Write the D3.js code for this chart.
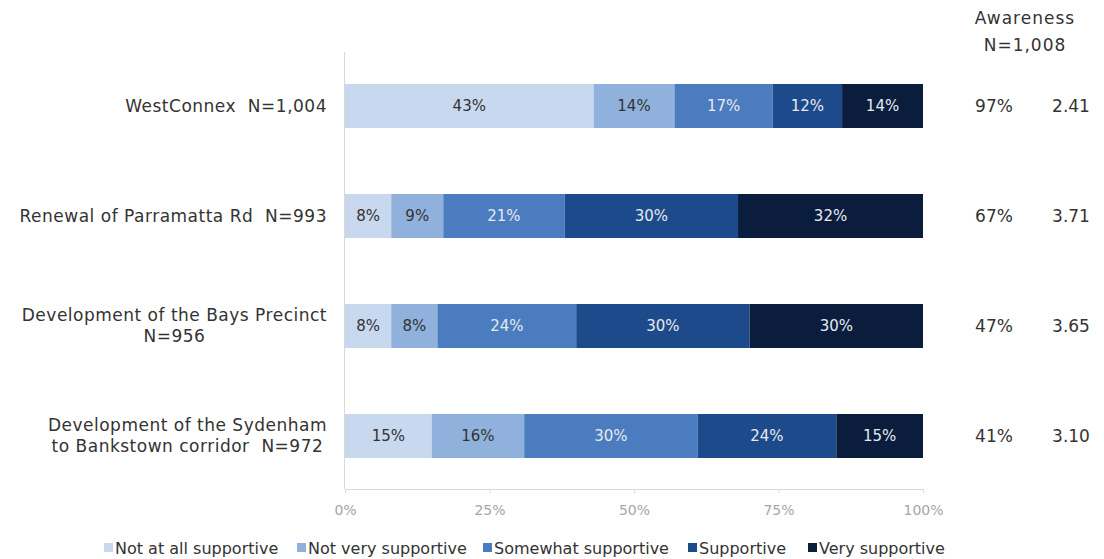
<!DOCTYPE html>
<html>
<head>
<meta charset="utf-8">
<script src="https://cdn.jsdelivr.net/npm/d3@7"></script>
<style>
  body { margin: 0; background: #fff; }
  svg { display: block; }
  text { font-family: "DejaVu Sans", sans-serif; white-space: pre; }
</style>
</head>
<body>
<div id="chart"></div>
<script>
const categories = [
  ["WestConnex  N=1,004"],
  ["Renewal of Parramatta Rd  N=993"],
  ["Development of the Bays Precinct", "N=956"],
  ["Development of the Sydenham", "to Bankstown corridor  N=972"]
];
const seriesNames = ["Not at all supportive", "Not very supportive", "Somewhat supportive", "Supportive", "Very supportive"];
const notAtAll   = [43, 8, 8, 15];
const notVery    = [14, 9, 8, 16];
const somewhat   = [17, 21, 24, 30];
const supportive = [12, 30, 30, 24];
const very       = [14, 32, 30, 15];
const awareness  = ["97%", "67%", "47%", "41%"];
const meanScore  = ["2.41", "3.71", "3.65", "3.10"];
const tickValues = [0, 25, 50, 75, 100];
const awarenessHeader = ["Awareness", "N=1,008"];

const colors = ["#c8d8ee", "#8fb1dc", "#4a7cbf", "#1d4a8b", "#0b1d3d"];
const labelColors = ["#333333", "#333333", "#e6e9ee", "#e6e9ee", "#e6e9ee"];

const W = 1104, H = 559;
const svg = d3.select("#chart").append("svg").attr("width", W).attr("height", H);

const x = d3.scaleLinear().domain([0, 100]).range([345, 923]);
const y = d3.scaleBand().domain(d3.range(categories.length)).range([51, 491])
  .paddingInner(0.6).paddingOuter(0.3);

const seriesArrays = [notAtAll, notVery, somewhat, supportive, very];
const rows = categories.map((c, i) => {
  let cum = 0;
  return seriesArrays.map((arr, s) => {
    const seg = { row: i, s, v: arr[i], x0: cum, x1: cum + arr[i] };
    cum += arr[i];
    return seg;
  });
});

// axes
const xAxis = d3.axisBottom(x).tickValues(tickValues).tickFormat(d => d + "%").tickSize(4).tickPadding(12);
const gx = svg.append("g").attr("transform", "translate(0,489)").call(xAxis);
gx.select(".domain").attr("stroke", "#d9d9d9");
gx.selectAll(".tick line").attr("stroke", "#d9d9d9");
gx.selectAll(".tick text").attr("fill", "#a6a6a6").style("font-size", "14px").style("font-family", "DejaVu Sans, sans-serif");

svg.append("line").attr("x1", 344.5).attr("x2", 344.5).attr("y1", 52).attr("y2", 489)
  .attr("stroke", "#d9d9d9");

// bars
const g = svg.append("g");
rows.forEach(row => {
  g.selectAll(null).data(row).enter().append("rect")
    .attr("x", d => x(d.x0))
    .attr("y", d => y(d.row))
    .attr("width", d => x(d.x1) - x(d.x0))
    .attr("height", y.bandwidth())
    .attr("fill", d => colors[d.s]);
  g.selectAll(null).data(row).enter().append("text")
    .attr("x", d => (x(d.x0) + x(d.x1)) / 2)
    .attr("y", d => y(d.row) + y.bandwidth() / 2)
    .attr("dy", "0.35em")
    .attr("text-anchor", "middle")
    .attr("fill", d => labelColors[d.s])
    .style("font-size", "15px")
    .text(d => d.v + "%");
});

// category labels
categories.forEach((lines, i) => {
  const t = svg.append("text").attr("fill", "#333").style("font-size", "17px").style("letter-spacing", "0.5px");
  const cy = y(i) + y.bandwidth() / 2;
  const lh = 21;
  const startY = cy - (lines.length - 1) * lh / 2;
  const tspans = lines.map((l, k) => t.append("tspan").attr("y", startY + k * lh).attr("dy", "0.35em").text(l));
  const widths = tspans.map(ts => ts.node().getComputedTextLength());
  const maxW = d3.max(widths);
  const right = 327;
  if (lines.length === 1) {
    t.attr("text-anchor", "end");
    tspans[0].attr("x", right);
  } else {
    t.attr("text-anchor", "middle");
    tspans.forEach(ts => ts.attr("x", right - maxW / 2));
  }
});

// right columns
awarenessHeader.forEach((h, k) => {
  svg.append("text").attr("x", 1025).attr("y", 18 + k * 27).attr("dy", "0.35em")
    .attr("text-anchor", "middle").attr("fill", "#333").style("font-size", "17px")
    .style("letter-spacing", "1px").text(h);
});
svg.selectAll(".aw").data(awareness).enter().append("text")
  .attr("x", 994).attr("y", (d, i) => y(i) + y.bandwidth() / 2).attr("dy", "0.35em")
  .attr("text-anchor", "middle").attr("fill", "#333").style("font-size", "17px").text(d => d);
svg.selectAll(".mn").data(meanScore).enter().append("text")
  .attr("x", 1071).attr("y", (d, i) => y(i) + y.bandwidth() / 2).attr("dy", "0.35em")
  .attr("text-anchor", "middle").attr("fill", "#333").style("font-size", "17px").text(d => d);

// legend
const legendX = [104, 297, 483, 688, 808];
const leg = svg.selectAll(".leg").data(seriesNames).enter().append("g")
  .attr("transform", (d, i) => `translate(${legendX[i]},548)`);
leg.append("rect").attr("x", 0).attr("y", -5).attr("width", 9).attr("height", 9)
  .attr("fill", (d, i) => colors[i]);
leg.append("text").attr("x", 11).attr("y", 0).attr("dy", "0.35em").attr("fill", "#333")
  .style("font-size", "16px").text(d => d);
</script>
</body>
</html>
